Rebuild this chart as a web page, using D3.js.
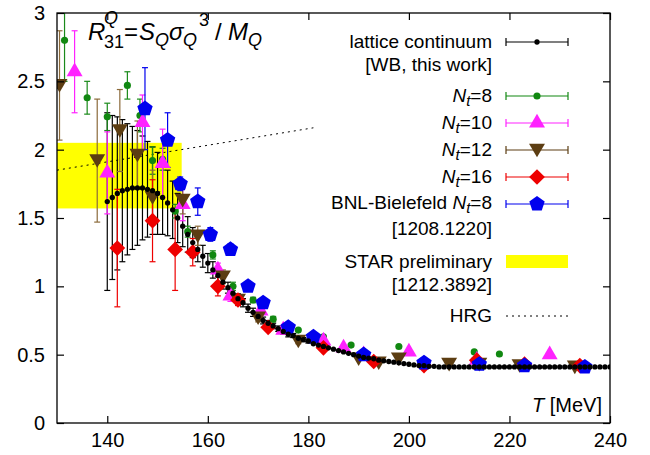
<!DOCTYPE html>
<html>
<head>
<style>
body { margin:0; background:#fff; }
text { font-family: "Liberation Sans", Arial, sans-serif; }
</style>
</head>
<body>
<svg id="chart" width="650" height="455"></svg>
<script src="https://d3js.org/d3.v7.min.js"></script>
<script>
// lattice continuum, T = 140..240 step 1
var contT = d3.range(140, 241);
var contY = [1.62,1.65,1.68,1.70,1.71,1.72,1.72,1.72,1.71,1.70,1.68,1.65,1.61,1.56,1.50,1.44,1.38,1.32,1.27,1.22,1.17,1.12,1.08,1.03,0.99,0.95,0.91,0.88,0.84,0.81,0.78,0.75,0.73,0.71,0.69,0.67,0.65,0.64,0.62,0.61,0.60,
0.58,0.57,0.56,0.55,0.54,0.53,0.52,0.51,0.50,0.49,0.48,0.475,0.47,0.46,0.455,0.45,0.445,0.44,0.435,0.43,
0.425,0.42,0.42,0.415,0.415,0.41,0.41,0.41,0.41,0.41,0.41,0.41,0.41,0.41,0.41,0.41,0.41,0.41,0.41,0.41,
0.41,0.41,0.41,0.41,0.41,0.41,0.41,0.41,0.41,0.41,0.41,0.41,0.41,0.41,0.41,0.41,0.41,0.41,0.41,0.41];
var contE = [0.65,0.6,0.56,0.52,0.48,0.45,0.42,0.38,0.35,0.32,0.3,0.27,0.24,0.21,0.18,0.15,0.13,0.11,0.09,0.08,0.07,0.06,0.05,0.05,0.04,0.04,0.035,0.03,0.03,0.03,0.025,0.025,0.02,0.02,0.02,0.02,0.02,0.015,0.015,0.015,0.015];

var nt8T = [131.5,136,140,144,146.5,149,151,153.5,156,161,165,169,173,178,183,188.5,198,213,218];
var nt8Y = [2.8,2.38,2.24,2.47,2.25,1.92,1.93,1.55,1.40,1.23,1.00,0.90,0.76,0.68,0.63,0.57,0.56,0.52,0.505];
var nt8E = [0.3,0.12,0.1,0.1,0.12,0.1,0.08,0.05,0.04,0.03,0.03,0.02,0.02,0.01,0.01,0.01,0.01,0.01,0.01];

var nt10T = [133.5,140,147,151,155,162,164.5,170.5,175,183,187,191,200,213.5,228];
var nt10Y = [2.57,1.83,2.2,1.9,1.6,1.12,0.93,0.82,0.68,0.6,0.55,0.5,0.52,0.46,0.5];
var nt10E = [0.3,0.3,0.2,0.25,0.12,0.05,0.04,0.03,0.02,0.02,0.01,0.01,0.01,0.01,0.01];

var nt12T = [130.5,138,142.5,146,149,155,158,163,166,170,178,190,194,198,208,214,222,233];
var nt12Y = [2.47,1.92,2.14,1.96,1.65,1.63,1.37,1.07,0.9,0.77,0.6,0.47,0.44,0.47,0.43,0.43,0.42,0.41];
var nt12E = [0.4,0.45,0.3,0.25,0.2,0.1,0.07,0.05,0.04,0.03,0.02,0.01,0.01,0.01,0.01,0.01,0.01,0.01];

var nt16T = [142,149,153.5,157,162,166,172,183,193,203,213.5,223,234];
var nt16Y = [1.28,1.48,1.27,1.25,1.0,0.9,0.7,0.55,0.45,0.42,0.46,0.43,0.42];
var nt16E = [0.43,0.3,0.3,0.1,0.07,0.04,0.03,0.02,0.01,0.01,0.01,0.01,0.01];

var bnlT = [147.5,152,154.5,158,160.5,164.5,168,171,176,181,191,203,214,223,235];
var bnlY = [2.3,2.07,1.75,1.62,1.38,1.27,1.0,0.88,0.7,0.63,0.5,0.44,0.43,0.42,0.41];
var bnlE = [0.3,0.2,0.05,0.1,0.05,0.04,0.03,0.03,0.02,0.02,0.01,0.01,0.01,0.01,0.01];

var starT = [130, 154.8];
var starY = [1.57, 2.05];
var hrgT = [130, 181];
var hrgY = [1.85, 2.16];

var xTicks = [140,160,180,200,220,240];
var yTicks = [0,0.5,1,1.5,2,2.5,3];

var svg = d3.select("#chart");
var x = d3.scaleLinear().domain([130, 240]).range([57, 610]);
var y = d3.scaleLinear().domain([0, 3]).range([423, 13]);

var plot = svg.append("g");
plot.append("defs").append("clipPath").attr("id","clip").append("rect")
  .attr("x",57).attr("y",13).attr("width",553).attr("height",410);
var g = plot.append("g").attr("clip-path","url(#clip)");

// STAR band
g.append("rect").attr("x", x(starT[0])).attr("width", x(starT[1]) - x(starT[0]))
  .attr("y", y(starY[1])).attr("height", y(starY[0]) - y(starY[1])).attr("fill", "#ffff00");

// HRG
g.append("line").attr("x1", x(hrgT[0])).attr("y1", y(hrgY[0])).attr("x2", x(hrgT[1])).attr("y2", y(hrgY[1]))
  .attr("stroke","#000").attr("stroke-dasharray","2,4").attr("stroke-width",1);

function errBars(T, Y, E, color) {
  var gg = g.append("g").attr("stroke", color).attr("stroke-width", 1.2);
  T.forEach(function(t, i) {
    var e = E[i] || 0.01;
    if (e < 0.015) return;
    var cx = x(t), y1 = y(Y[i] - e), y2 = y(Y[i] + e);
    gg.append("line").attr("x1",cx).attr("x2",cx).attr("y1",y1).attr("y2",y2);
    gg.append("line").attr("x1",cx-3).attr("x2",cx+3).attr("y1",y1).attr("y2",y1);
    gg.append("line").attr("x1",cx-3).attr("x2",cx+3).attr("y1",y2).attr("y2",y2);
  });
}
var downTri = { draw: function(ctx, s) {
  var h = Math.sqrt(s / 0.433) / 2;
  ctx.moveTo(-h, -h*0.8); ctx.lineTo(h, -h*0.8); ctx.lineTo(0, h*0.9); ctx.closePath(); } };
var diamond = { draw: function(ctx, s) {
  var r = Math.sqrt(s) * 0.75;
  ctx.moveTo(0,-r); ctx.lineTo(r,0); ctx.lineTo(0,r); ctx.lineTo(-r,0); ctx.closePath(); } };
var pentagon = { draw: function(ctx, s) {
  var r = Math.sqrt(s) * 0.62;
  for (var k = 0; k < 5; k++) {
    var a = -Math.PI / 2 + k * 2 * Math.PI / 5;
    if (k === 0) ctx.moveTo(r*Math.cos(a), r*Math.sin(a)); else ctx.lineTo(r*Math.cos(a), r*Math.sin(a));
  }
  ctx.closePath(); } };

function marks(T, Y, type, size, color) {
  g.append("g").selectAll("path").data(T).enter().append("path")
    .attr("d", d3.symbol().type(type).size(size))
    .attr("transform", function(d, i) { return "translate(" + x(d) + "," + y(Y[i]) + ")"; })
    .attr("fill", color);
}

errBars(contT, contY, contE, "#000");
errBars(nt8T, nt8Y, nt8E, "#1a8a1a");
errBars(nt10T, nt10Y, nt10E, "#ff22ff");
errBars(nt12T, nt12Y, nt12E, "#8b6a3a");
errBars(nt16T, nt16Y, nt16E, "#ee0000");
errBars(bnlT, bnlY, bnlE, "#0000ee");

marks(nt8T, nt8Y, d3.symbolCircle, 40, "#118811");
marks(nt10T, nt10Y, d3.symbolTriangle, 110, "#ff22ff");
marks(nt12T, nt12Y, downTri, 110, "#5c3d12");
marks(nt16T, nt16Y, diamond, 110, "#ee0000");
marks(bnlT, bnlY, pentagon, 170, "#0000ee");
marks(contT, contY, d3.symbolCircle, 22, "#000");

// axes frame
svg.append("rect").attr("x",57).attr("y",13).attr("width",553).attr("height",410)
  .attr("fill","none").attr("stroke","#000").attr("stroke-width",1.3);
var xa = svg.append("g").attr("transform","translate(0,423)")
  .call(d3.axisBottom(x).tickValues(xTicks).tickSize(-7).tickPadding(10).tickFormat(d3.format("d")));
xa.select(".domain").remove();
var xa2 = svg.append("g").attr("transform","translate(0,13)")
  .call(d3.axisTop(x).tickValues(xTicks).tickSize(-7).tickFormat(""));
xa2.select(".domain").remove();
var ya = svg.append("g").attr("transform","translate(57,0)")
  .call(d3.axisLeft(y).tickValues(yTicks).tickSize(-7).tickPadding(12).tickFormat(d3.format("")));
ya.select(".domain").remove();
var ya2 = svg.append("g").attr("transform","translate(610,0)")
  .call(d3.axisRight(y).tickValues(yTicks).tickSize(-7).tickFormat(""));
ya2.select(".domain").remove();
svg.selectAll(".tick text").attr("font-size", 20).attr("font-family","Liberation Sans, Arial");
svg.selectAll(".tick line").attr("stroke-width",1.2);

// title formula
function tx(xx, yy, s, fs, it) {
  var e = svg.append("text").attr("x", xx).attr("y", yy).attr("font-size", fs).text(s);
  if (it) e.attr("font-style","italic");
  return e;
}
tx(88, 40, "R", 24, true);
tx(104, 24, "Q", 18, true);
tx(104, 48, "31", 18, false);
tx(124, 40, "=", 24, false);
tx(139, 40, "S", 24, true);
tx(155, 46, "Q", 18, true);
tx(169, 40, "σ", 24, true);
tx(183, 46, "Q", 18, true);
tx(199, 26, "3", 18, false);
tx(215, 40, "/", 24, false);
tx(228, 40, "M", 24, true);
tx(248, 46, "Q", 18, true);

// x label
var xl = svg.append("text").attr("x", 602).attr("y", 412).attr("text-anchor","end").attr("font-size",20);
xl.append("tspan").attr("font-style","italic").text("T");
xl.append("tspan").text(" [MeV]");

// legend
var lx = 492, s1 = 506, s2 = 568;
function ltext(yy, parts) {
  var tt = svg.append("text").attr("x", lx).attr("y", yy).attr("text-anchor","end").attr("font-size",19);
  parts.forEach(function(p) {
    var sp = tt.append("tspan").text(p[0]);
    if (p[1] === "i") sp.attr("font-style","italic");
    if (p[1] === "sub") sp.attr("font-size",15).attr("font-style","italic").attr("dy",4);
    if (p[1] === "up") sp.attr("dy",-4);
  });
}
function lbar(yy, color, type, size) {
  var lg = svg.append("g").attr("stroke", color).attr("stroke-width",1.2);
  lg.append("line").attr("x1",s1).attr("x2",s2).attr("y1",yy).attr("y2",yy);
  lg.append("line").attr("x1",s1).attr("x2",s1).attr("y1",yy-4).attr("y2",yy+4);
  lg.append("line").attr("x1",s2).attr("x2",s2).attr("y1",yy-4).attr("y2",yy+4);
  svg.append("path").attr("d", d3.symbol().type(type).size(size)).attr("fill", color)
    .attr("transform","translate(" + ((s1+s2)/2) + "," + yy + ")");
}
ltext(48, [["lattice continuum"]]); lbar(42, "#000", d3.symbolCircle, 22);
ltext(71, [["[WB, this work]"]]);
ltext(102, [["N","i"],["t","sub"],["=8","up"]]); lbar(96, "#118811", d3.symbolCircle, 40);
ltext(129, [["N","i"],["t","sub"],["=10","up"]]); lbar(123, "#ff22ff", d3.symbolTriangle, 110);
ltext(156, [["N","i"],["t","sub"],["=12","up"]]); lbar(150, "#5c3d12", downTri, 110);
ltext(183, [["N","i"],["t","sub"],["=16","up"]]); lbar(177, "#ee0000", diamond, 110);
ltext(209, [["BNL-Bielefeld "],["N","i"],["t","sub"],["=8","up"]]); lbar(204, "#0000ee", pentagon, 170);
ltext(235, [["[1208.1220]"]]);
ltext(268, [["STAR preliminary"]]);
svg.append("rect").attr("x",s1).attr("y",255).attr("width",s2-s1).attr("height",13).attr("fill","#ffff00");
ltext(291, [["[1212.3892]"]]);
ltext(322, [["HRG"]]);
svg.append("line").attr("x1",s1).attr("x2",s2).attr("y1",316).attr("y2",316)
  .attr("stroke","#000").attr("stroke-dasharray","2,4");
</script>
</body>
</html>
